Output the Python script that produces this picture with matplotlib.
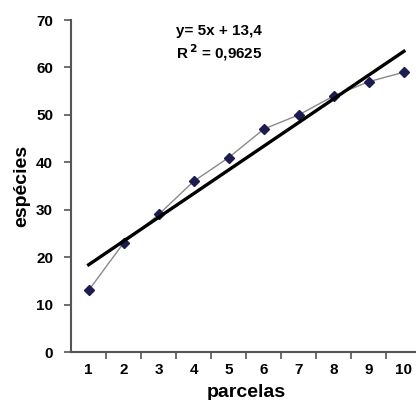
import matplotlib
matplotlib.use("Agg")
import matplotlib.pyplot as plt

plt.rcParams["font.family"] = ["Liberation Sans", "DejaVu Sans"]
plt.rcParams["font.weight"] = "bold"

parcelas = [1, 2, 3, 4, 5, 6, 7, 8, 9, 10]
especies = [13, 23, 29, 36, 41, 47, 50, 54, 57, 59]
slope = 5.0
intercept = 13.4
r2_label = "0,9625"

fig = plt.figure(figsize=(4.16, 4.0), dpi=100)
ax = fig.add_axes([0.171, 0.12, 0.842, 0.83])

# observed points
ax.plot(parcelas, especies, "-", color="#8a8a8a", linewidth=1.0, zorder=2)
ax.plot(parcelas, especies, "D", color="#1c1c50", markersize=5.5, zorder=3)

# linear trend
trend = [slope * x + intercept for x in parcelas]
ax.plot(parcelas, trend, "-", color="black", linewidth=2.4, zorder=4)

ax.text(0.30, 0.955, "y= 5x + 13,4", transform=ax.transAxes, fontsize=11, fontweight="bold")
ax.text(0.30, 0.885, "R$^{\\,2}$ = " + r2_label, transform=ax.transAxes, fontsize=11, fontweight="bold")

ax.set_xlim(0.5, 10.5)
ax.set_ylim(0, 70)
ax.set_yticks(range(0, 71, 10))
ax.set_xticks(parcelas)
ax.set_xticks([x + 0.5 for x in parcelas[:-1]], minor=True)
ax.tick_params(axis="x", which="major", length=0, pad=8, labelsize=11)
ax.tick_params(axis="x", which="minor", length=5, width=1.2, color="#555555")
ax.tick_params(axis="y", length=5, width=1.2, color="#555555", pad=8, labelsize=11)

for s in ["top", "right"]:
    ax.spines[s].set_visible(False)
for s in ["left", "bottom"]:
    ax.spines[s].set_color("#555555")
    ax.spines[s].set_linewidth(1.5)

ax.set_xlabel("parcelas", fontsize=14, fontweight="bold", labelpad=5)
ax.set_ylabel("espécies", fontsize=14, fontweight="bold", labelpad=4)

fig.savefig("out.png", dpi=100)
